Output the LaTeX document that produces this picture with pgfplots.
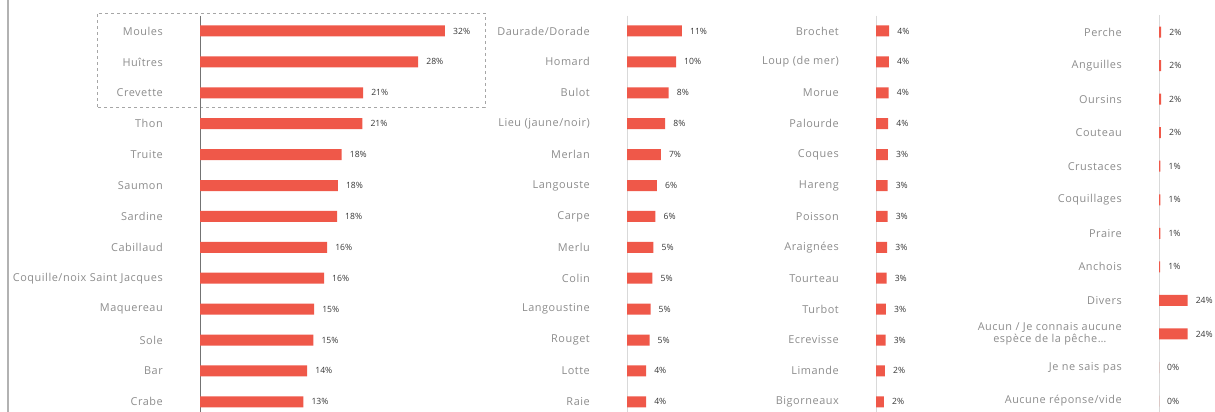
\documentclass[border=0pt]{standalone}
\usepackage{pgfplots}
\pgfplotsset{compat=1.18}
\usepackage{fontspec}
\setmainfont{Open Sans}
\newfontfamily\labfont[LetterSpace=5.0]{Open Sans}

\definecolor{barred}{RGB}{239,88,73}
\definecolor{labgray}{RGB}{140,140,140}
\definecolor{valgray}{RGB}{55,55,55}

\pgfplotsset{
  panel/.style={
    xbar, bar width=11pt,
    anchor=origin, y dir=reverse,
    axis x line=none, axis y line=left,
    y axis line style={-, line width=0.8pt, draw=black!15},
    xmin=0, ymin=-0.5, enlargelimits=false,
    major tick length=0pt,
    yticklabel style={font=\labfont\fontsize{10.9}{12.5}\selectfont, text=labgray,
      align=center, inner sep=0pt, anchor=east, xshift=-37pt},
    point meta=explicit symbolic,
    nodes near coords={\pgfplotspointmeta\%},
    nodes near coords style={font=\fontsize{8.6}{9}\selectfont, text=valgray,
      anchor=west, inner sep=0pt, xshift=8pt},
    clip=false,
  }
}

\begin{document}
\begin{tikzpicture}
\path[use as bounding box] (0,0) rectangle (1215pt,412pt);

% left frame line
\draw[line width=2pt, black!30] (8pt,0) -- (8pt,412pt);
% dashed box round the top three
\draw[black!35, line width=0.8pt, dash pattern=on 3pt off 3pt]
  (97pt,305pt) rectangle (485pt,399pt);

% panel 1
\begin{axis}[panel, at={(200pt,381pt)}, x=7.656pt, y=30.9pt,
  xmax=33, ymax=12.4,
  y axis line style={-, line width=0.8pt, draw=black!55},
  ytick={0,...,12},
  yticklabels={Moules,Huîtres,Crevette,Thon,Truite,Saumon,Sardine,Cabillaud,
    Coquille/noix Saint Jacques,Maquereau,Sole,Bar,Crabe}]
\addplot[fill=barred, draw=none] coordinates {
  (32.0,0) [32] (28.5,1) [28] (21.3,2) [21] (21.2,3) [21] (18.5,4) [18]
  (18.0,5) [18] (17.9,6) [18] (16.6,7) [16] (16.2,8) [16] (14.9,9) [15]
  (14.8,10) [15] (14.0,11) [14] (13.5,12) [13]};
\end{axis}

% panel 2
\begin{axis}[panel, at={(627pt,381pt)}, x=4.9pt, y=30.9pt,
  xmax=12, ymax=12.4,
  ytick={0,...,12},
  yticklabels={Daurade/Dorade,Homard,Bulot,Lieu (jaune/noir),Merlan,Langouste,
    Carpe,Merlu,Colin,Langoustine,Rouget,Lotte,Raie}]
\addplot[fill=barred, draw=none] coordinates {
  (11.2,0) [11] (10.0,1) [10] (8.5,2) [8] (7.8,3) [8] (6.9,4) [7]
  (6.1,5) [6] (5.8,6) [6] (5.4,7) [5] (5.2,8) [5] (4.8,9) [5]
  (4.6,10) [5] (3.9,11) [4] (3.9,12) [4]};
\end{axis}

% panel 3
\begin{axis}[panel, at={(876pt,381pt)}, x=3.3pt, y=30.9pt,
  xmax=5, ymax=12.4,
  ytick={0,...,12},
  yticklabels={Brochet,Loup (de mer),Morue,Palourde,Coques,Hareng,Poisson,
    Araignées,Tourteau,Turbot,Ecrevisse,Limande,Bigorneaux}]
\addplot[fill=barred, draw=none] coordinates {
  (4.0,0) [4] (3.9,1) [4] (3.85,2) [4] (3.7,3) [4] (3.6,4) [3]
  (3.5,5) [3] (3.5,6) [3] (3.4,7) [3] (3.2,8) [3] (3.0,9) [3]
  (2.9,10) [3] (2.7,11) [2] (2.4,12) [2]};
\end{axis}

% panel 4
\begin{axis}[panel, at={(1159pt,380pt)}, x=1.19pt, y=33.55pt,
  xmax=25, ymax=11.35,
  ytick={0,...,11},
  yticklabels={Perche,Anguilles,Oursins,Couteau,Crustaces,Coquillages,Praire,
    Anchois,Divers,{Aucun / Je connais aucune\\espèce de la pêche\ldots},
    Je ne sais pas,Aucune réponse/vide}]
\addplot[fill=barred, draw=none] coordinates {
  (1.8,0) [2] (1.8,1) [2] (1.7,2) [2] (1.6,3) [2] (1.2,4) [1]
  (1.2,5) [1] (1.1,6) [1] (1.0,7) [1] (24,8) [24] (24,9) [24]
  (0,10) [0] (0,11) [0]};
\end{axis}
\end{tikzpicture}
\end{document}
